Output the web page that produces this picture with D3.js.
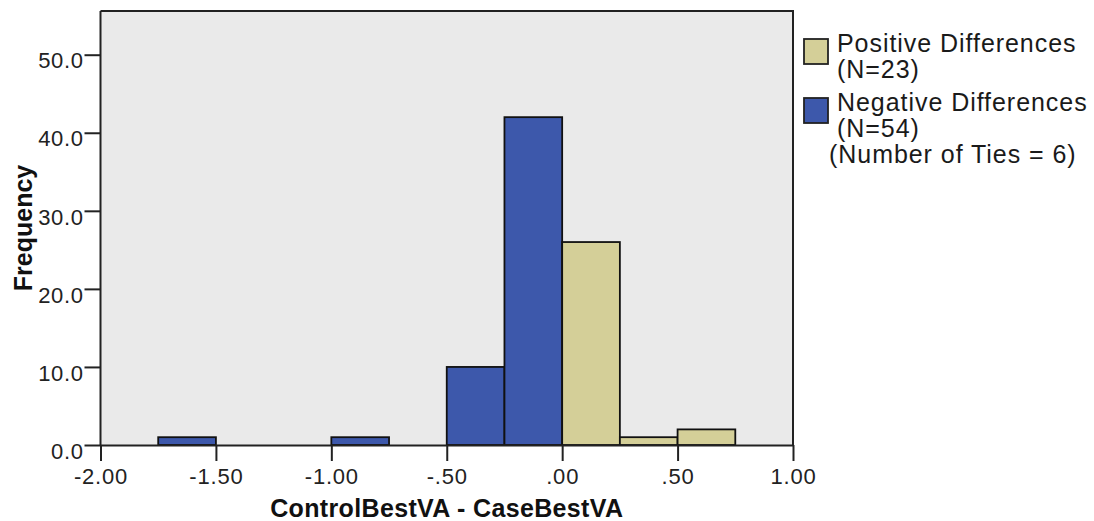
<!DOCTYPE html>
<html>
<head>
<meta charset="utf-8">
<script src="https://cdn.jsdelivr.net/npm/d3@7"></script>
<style>
  html, body { margin: 0; padding: 0; background: #fff; }
  svg { display: block; font-family: "Liberation Sans", Arial, sans-serif; }
</style>
</head>
<body>
<svg id="chart" width="1094" height="521"></svg>
<script>
// Histogram bins of the paired difference (bin start, bin end) and counts
const binStarts = [-1.75, -1.00, -0.50, -0.25, 0.00, 0.25, 0.50];
const binEnds   = [-1.50, -0.75, -0.25, 0.00, 0.25, 0.50, 0.75];
const counts    = [1, 1, 10, 42, 26, 1, 2];
const signs     = ["neg", "neg", "neg", "neg", "pos", "pos", "pos"];

const xTicks = [-2.0, -1.5, -1.0, -0.5, 0.0, 0.5, 1.0];
const xTickLabels = ["-2.00", "-1.50", "-1.00", "-.50", ".00", ".50", "1.00"];
const yTicks = [0, 10, 20, 30, 40, 50];
const yTickLabels = ["0.0", "10.0", "20.0", "30.0", "40.0", "50.0"];

const legendItems = ["pos", "neg"];
const legendLines = [["Positive Differences", "(N=23)"], ["Negative Differences", "(N=54)"]];
const tiesNote = "(Number of Ties = 6)";

const colors = { pos: "#d4cf98", neg: "#3d58ab" };

const svg = d3.select("#chart");
const plot = { left: 100.5, right: 793, top: 11, bottom: 445 };

const x = d3.scaleLinear().domain([-2, 1]).range([plot.left, plot.right]);
const y = d3.scaleLinear().domain([0, 55.6]).range([plot.bottom, plot.top]);

// plot background
svg.append("rect")
  .attr("x", plot.left).attr("y", plot.top)
  .attr("width", plot.right - plot.left).attr("height", plot.bottom - plot.top)
  .attr("fill", "#eaeaea");

// bars
svg.append("g").selectAll("rect")
  .data(counts.map((c, i) => ({ c, x0: binStarts[i], x1: binEnds[i], s: signs[i] })))
  .join("rect")
  .attr("x", d => x(d.x0))
  .attr("y", d => y(d.c))
  .attr("width", d => x(d.x1) - x(d.x0))
  .attr("height", d => y(0) - y(d.c))
  .attr("fill", d => colors[d.s])
  .attr("stroke", "#111")
  .attr("stroke-width", 1.8);

// frame: top and right edges
svg.append("path")
  .attr("d", `M${plot.left},${plot.top}H${plot.right}V${plot.bottom}`)
  .attr("fill", "none").attr("stroke", "#222").attr("stroke-width", 2);

// y axis
const yAxis = svg.append("g")
  .attr("transform", `translate(${plot.left},0)`)
  .call(d3.axisLeft(y).tickValues(yTicks)
    .tickFormat((d, i) => yTickLabels[i]).tickSize(16).tickPadding(1).tickSizeOuter(0));
yAxis.select(".domain").attr("stroke", "#222").attr("stroke-width", 2)
  .attr("d", `M0,${plot.top}V${plot.bottom}`);
yAxis.selectAll(".tick line").attr("stroke", "#222").attr("stroke-width", 2);
yAxis.selectAll(".tick text")
  .attr("font-size", 22).attr("fill", "#222").attr("dy", "0.6em")
  .attr("letter-spacing", "0.6px")
  .attr("font-family", "'Liberation Sans', Arial, sans-serif");

// x axis
const xAxis = svg.append("g")
  .attr("transform", `translate(0,${plot.bottom})`)
  .call(d3.axisBottom(x).tickValues(xTicks)
    .tickFormat((d, i) => xTickLabels[i]).tickSize(16).tickPadding(7).tickSizeOuter(0));
xAxis.select(".domain").attr("stroke", "#222").attr("stroke-width", 2);
xAxis.selectAll(".tick line").attr("stroke", "#222").attr("stroke-width", 2);
xAxis.selectAll(".tick text")
  .attr("font-size", 22).attr("fill", "#222")
  .attr("letter-spacing", "0.8px")
  .attr("font-family", "'Liberation Sans', Arial, sans-serif");

// axis titles
svg.append("text")
  .attr("x", (plot.left + plot.right) / 2).attr("y", 517)
  .attr("text-anchor", "middle").attr("font-size", 25).attr("font-weight", "bold")
  .attr("letter-spacing", "0.35px")
  .attr("fill", "#111")
  .text("ControlBestVA - CaseBestVA");

svg.append("text")
  .attr("transform", `translate(32,${(plot.top + plot.bottom) / 2}) rotate(-90)`)
  .attr("text-anchor", "middle").attr("font-size", 25).attr("font-weight", "bold")
  .attr("fill", "#111")
  .text("Frequency");

// legend
const legend = svg.append("g");
legendItems.forEach((k, i) => {
  const top = 39 + i * 59;
  legend.append("rect")
    .attr("x", 804).attr("y", top).attr("width", 24).attr("height", 25)
    .attr("fill", colors[k]).attr("stroke", "#222").attr("stroke-width", 1.8);
  legendLines[i].forEach((t, j) => {
    legend.append("text")
      .attr("x", 837).attr("y", top + 13 + j * 26)
      .attr("font-size", 25).attr("letter-spacing", "0.95px").attr("fill", "#1a1a1a")
      .text(t);
  });
});
legend.append("text")
  .attr("x", 829).attr("y", 163)
  .attr("font-size", 25).attr("letter-spacing", "0.95px").attr("fill", "#1a1a1a")
  .text(tiesNote);
</script>
</body>
</html>
